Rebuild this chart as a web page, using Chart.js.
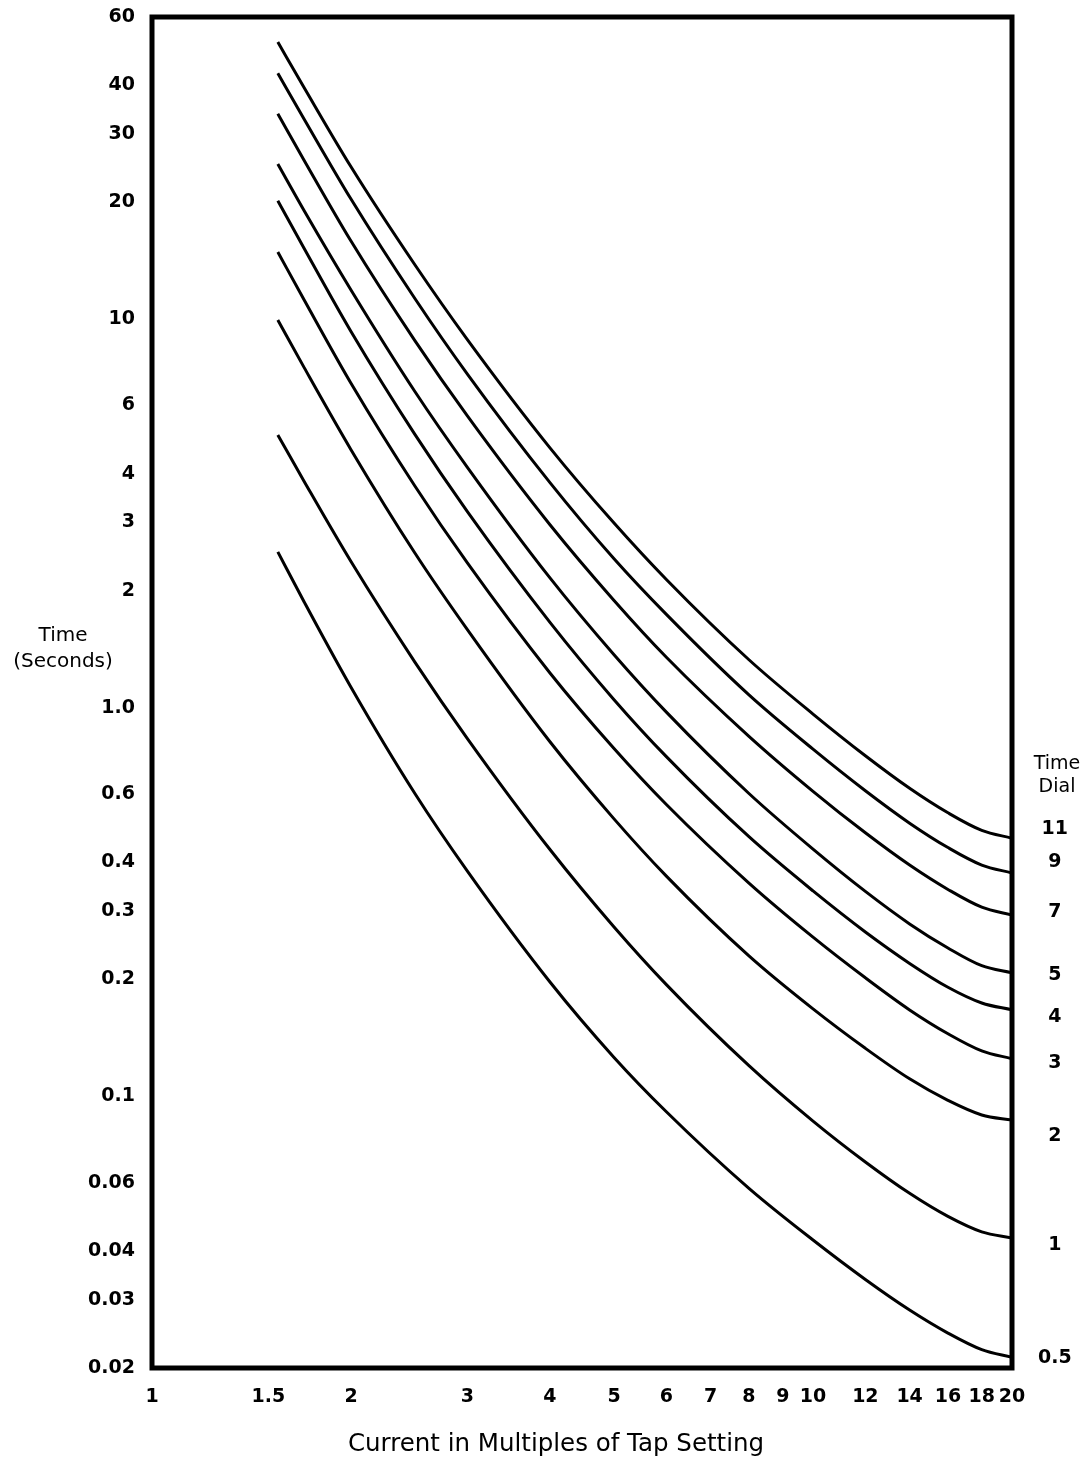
<!DOCTYPE html>
<html>
<head>
<meta charset="utf-8">
<script src="https://cdn.jsdelivr.net/npm/chart.js@4.4.1/dist/chart.umd.min.js"></script>
<style>
html,body{margin:0;padding:0;background:#fff;}
#wrap{width:1089px;height:1465px;position:relative;}
</style>
</head>
<body>
<div id="wrap"><canvas id="c"></canvas></div>
<script>
// Current in multiples of tap setting (x) at which the curves were read
const currentMultiples = [1.55, 1.7, 2, 2.5, 3, 4, 5, 6, 8, 10, 12, 14, 16, 18, 20];

// Operating time (seconds) for each time-dial setting
const dial11 = [51.7, 39.4, 24.7, 13.8, 8.87, 4.67, 2.99, 2.14, 1.33, 0.964, 0.753, 0.621, 0.537, 0.484, 0.462];
const dial9  = [43.0, 32.7, 20.4, 11.3, 7.23, 3.80, 2.42, 1.74, 1.08, 0.783, 0.612, 0.505, 0.437, 0.394, 0.376];
const dial7  = [33.8, 25.6, 15.9, 8.80, 5.64, 2.96, 1.89, 1.35, 0.845, 0.610, 0.477, 0.394, 0.341, 0.307, 0.293];
const dial5  = [25.1, 19.0, 11.9, 6.51, 4.16, 2.16, 1.37, 0.975, 0.602, 0.433, 0.337, 0.278, 0.241, 0.217, 0.208];
const dial4  = [20.2, 15.2, 9.31, 5.05, 3.20, 1.66, 1.05, 0.749, 0.466, 0.338, 0.265, 0.220, 0.191, 0.174, 0.167];
const dial3  = [14.9, 11.2, 6.85, 3.72, 2.36, 1.23, 0.786, 0.564, 0.354, 0.257, 0.202, 0.167, 0.145, 0.131, 0.125];
const dial2  = [9.96, 7.50, 4.62, 2.50, 1.59, 0.818, 0.518, 0.369, 0.230, 0.168, 0.133, 0.111, 0.0977, 0.0896, 0.0869];
const dial1  = [5.04, 3.82, 2.38, 1.31, 0.834, 0.432, 0.273, 0.194, 0.120, 0.0864, 0.0678, 0.0563, 0.0491, 0.0448, 0.0432];
const dial05 = [2.52, 1.87, 1.13, 0.601, 0.380, 0.197, 0.126, 0.0913, 0.0580, 0.0427, 0.0338, 0.0282, 0.0246, 0.0223, 0.0213];

const dialNames = ['11', '9', '7', '5', '4', '3', '2', '1', '0.5'];
const dialSeries = [dial11, dial9, dial7, dial5, dial4, dial3, dial2, dial1, dial05];
// Time values (s) at which the dial labels sit on the right-hand scale
const dialTickValues = [0.488, 0.401, 0.298, 0.205, 0.160, 0.122, 0.0791, 0.0415, 0.0212];

// Tick labels
const xTickValues = [1, 1.5, 2, 3, 4, 5, 6, 7, 8, 9, 10, 12, 14, 16, 18, 20];
const xTickLabels = ['1', '1.5', '2', '3', '4', '5', '6', '7', '8', '9', '10', '12', '14', '16', '18', '20'];
const yTickValues = [60, 40, 30, 20, 10, 6, 4, 3, 2, 1, 0.6, 0.4, 0.3, 0.2, 0.1, 0.06, 0.04, 0.03, 0.02];
const yTickLabels = ['60', '40', '30', '20', '10', '6', '4', '3', '2', '1.0', '0.6', '0.4', '0.3', '0.2', '0.1', '0.06', '0.04', '0.03', '0.02'];

const xTitle = 'Current in Multiples of Tap Setting';
const yTitleLines = ['Time', '(Seconds)'];
const dialTitleLines = ['Time', 'Dial'];

const FONT = '"DejaVu Sans", "Liberation Sans", Arial, sans-serif';
const tickFont = { family: FONT, size: 19, weight: 'bold' };

const datasets = dialSeries.map((vals, i) => ({
  label: dialNames[i],
  data: currentMultiples.map((x, j) => ({ x: x, y: vals[j] })),
  borderColor: '#000',
  borderWidth: 3,
  pointRadius: 0,
  fill: false,
  cubicInterpolationMode: 'monotone',
  xAxisID: 'x',
  yAxisID: 'y'
}));

const decor = {
  id: 'decor',
  afterDatasetsDraw(chart) {
    const { ctx, chartArea: a } = chart;
    ctx.save();
    ctx.strokeStyle = '#000';
    ctx.lineWidth = 5;
    ctx.strokeRect(a.left, a.top, a.right - a.left, a.bottom - a.top);
    ctx.fillStyle = '#000';
    ctx.textAlign = 'center';
    ctx.textBaseline = 'middle';
    ctx.font = '20px ' + FONT;
    ctx.fillText(yTitleLines[0], 63, 636);
    ctx.fillText(yTitleLines[1], 63, 662);
    ctx.font = '19px ' + FONT;
    ctx.fillText(dialTitleLines[0], 1057, 764);
    ctx.fillText(dialTitleLines[1], 1057, 787);
    ctx.font = '24.5px ' + FONT;
    ctx.fillText(xTitle, 556, 1445);
    ctx.restore();
  }
};

function noVertPad(s, w) {
  s.width = w;
  s.paddingTop = 0;
  s.paddingBottom = 0;
}

new Chart(document.getElementById('c'), {
  type: 'line',
  data: { datasets: datasets },
  plugins: [decor],
  options: {
    responsive: true,
    maintainAspectRatio: false,
    animation: false,
    layout: { padding: { top: 17, left: 0, right: 0, bottom: 0 } },
    plugins: { legend: { display: false }, tooltip: { enabled: false } },
    scales: {
      x: {
        type: 'logarithmic', position: 'bottom', min: 1, max: 20,
        afterBuildTicks: s => { s.ticks = xTickValues.map(v => ({ value: v })); },
        afterFit: s => { s.height = 97; s.paddingLeft = 0; s.paddingRight = 0; },
        grid: { display: false, drawTicks: false },
        border: { display: false },
        ticks: {
          autoSkip: false, maxRotation: 0, minRotation: 0, padding: 18, color: '#000', font: tickFont,
          callback: (v, i) => xTickLabels[i]
        }
      },
      y: {
        type: 'logarithmic', position: 'left', min: 0.02, max: 60,
        afterBuildTicks: s => { s.ticks = yTickValues.map(v => ({ value: v })); },
        afterFit: s => noVertPad(s, 152),
        grid: { display: false, drawTicks: false },
        border: { display: false },
        ticks: {
          autoSkip: false, padding: 17, color: '#000', font: tickFont,
          callback: (v, i) => yTickLabels[i]
        }
      },
      dial: {
        type: 'logarithmic', axis: 'y', position: 'right', min: 0.02, max: 60,
        afterBuildTicks: s => { s.ticks = dialTickValues.map(v => ({ value: v })); },
        afterFit: s => noVertPad(s, 77),
        grid: { display: false, drawTicks: false },
        border: { display: false },
        ticks: {
          autoSkip: false, padding: 26, crossAlign: 'center', color: '#000', font: tickFont,
          callback: (v, i) => dialNames[i]
        }
      }
    }
  }
});
</script>
</body>
</html>
